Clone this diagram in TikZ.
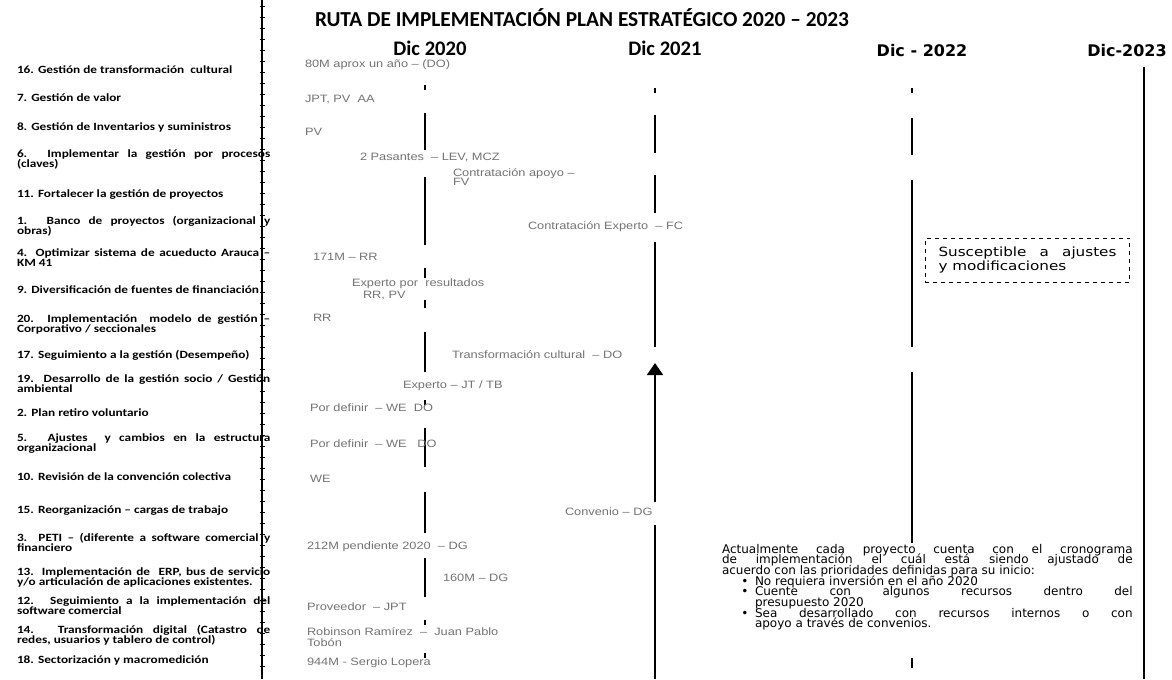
\documentclass[tikz,border=0pt]{standalone}
\usepackage{fontspec}
\setmainfont{Carlito}
\newfontfamily\labfont[FakeStretch=1.2]{Carlito}
\newfontfamily\respfont[FakeStretch=1.2]{Liberation Sans}
\newfontfamily\cajafont[FakeStretch=1.2]{DejaVu Sans}
\newfontfamily\dicfont{DejaVu Sans}
\newcommand\apretado{\lineskiplimit=-5pt\relax}
\usetikzlibrary{arrows.meta}

\begin{document}
\begin{tikzpicture}[
    x=0.75pt, y=-0.75pt,
    every node/.style={inner sep=0pt, outer sep=0pt, execute at begin node=\apretado},
    proyecto/.style={anchor=base west, text width=190pt, align=justify,
        font=\labfont\bfseries\fontsize{8.3}{7.7}\selectfont},
    resp/.style={anchor=base west, text=black!55,
        font=\respfont\fontsize{8}{9}\selectfont},
    anio/.style={anchor=base, font=\bfseries\fontsize{15.5}{16}\selectfont},
    anioB/.style={anchor=base, font=\dicfont\bfseries\fontsize{12}{13}\selectfont},
    tramo/.style={line width=1.3pt},
    marca/.style={line width=0.3pt}]

\useasboundingbox (0,0) rectangle (1172,679);

\draw[line width=1.5pt] (262,0) -- (262,679);
\foreach \y in {6,17,...,676}
    \draw[marca] (260,\y) -- (265,\y);

\node[anchor=base, font=\bfseries\fontsize{16}{17}\selectfont] (titulo) at (582,26)
    {RUTA DE IMPLEMENTACIÓN PLAN ESTRATÉGICO 2020 – 2023};
\node[anio] (dic20) at (430,55) {Dic 2020};
\node[anio] (dic21) at (665,55) {Dic 2021};
\node[anioB] (dic22) at (922,56) {Dic - 2022};
\node[anioB] (dic23) at (1127,56) {Dic-2023};

\node[proyecto] (p16) at (17,73)  {16. Gestión de transformación \ cultural};
\node[proyecto] (p7)  at (17,101) {7. Gestión de valor};
\node[proyecto] (p8)  at (17,130) {8. Gestión de Inventarios y suministros};
\node[proyecto] (p6)  at (17,157) {6. Implementar la gestión por procesos\linebreak (claves)};
\node[proyecto] (p11) at (17,197) {11. Fortalecer la gestión de proyectos};
\node[proyecto] (p1)  at (17,224) {1. Banco de proyectos (organizacional y\linebreak obras)};
\node[proyecto] (p4)  at (17,256) {4. Optimizar sistema de acueducto Arauca –\linebreak KM 41};
\node[proyecto] (p9)  at (17,293) {9. Diversificación de fuentes de financiación};
\node[proyecto] (p20) at (17,322) {20. Implementación \ modelo de gestión –\linebreak Corporativo / seccionales};
\node[proyecto] (p17) at (17,358) {17. Seguimiento a la gestión (Desempeño)};
\node[proyecto] (p19) at (17,382) {19. Desarrollo de la gestión socio / Gestión\linebreak ambiental};
\node[proyecto] (p2)  at (17,416) {2. Plan retiro voluntario};
\node[proyecto] (p5)  at (17,441) {5. Ajustes \ y cambios en la estructura\linebreak organizacional};
\node[proyecto] (p10) at (17,480) {10. Revisión de la convención colectiva};
\node[proyecto] (p15) at (17,513) {15. Reorganización – cargas de trabajo};
\node[proyecto] (p3)  at (17,541) {3. PETI – (diferente a software comercial y\linebreak financiero};
\node[proyecto] (p13) at (17,575) {13. Implementación de \ ERP, bus de servicio\linebreak y/o articulación de aplicaciones existentes.};
\node[proyecto] (p12) at (17,604) {12. Seguimiento a la implementación del\linebreak software comercial};
\node[proyecto] (p14) at (17,633) {14. Transformación digital (Catastro de\linebreak redes, usuarios y tablero de control)};
\node[proyecto] (p18) at (17,663) {18. Sectorización y macromedición};

\foreach \a/\b in {85/90,113/150,177/245,268/278,300/308,332/372,400/405,428/467,492/533,558/597,620/625,653/658}
    \draw[tramo, line width=1.6pt] (425,\a) -- (425,\b);
\foreach \a/\b in {88/93,115/153,175/213,242/347,525/679}
    \draw[tramo] (655,\a) -- (655,\b);
\draw[tramo, -{Triangle[width=12pt,length=9pt]}] (655,502) -- (655,363);
\foreach \a/\b in {88/93,118/155,180/347,372/543,658/668}
    \draw[tramo] (912,\a) -- (912,\b);
\draw[tramo, line width=1.1pt] (1144,67) -- (1144,679);

\node[resp] (r16) at (305,67)  {80M aprox un año – (DO)};
\node[resp] (r7)  at (305,102) {JPT, PV \ AA};
\node[resp] (r8)  at (305,135) {PV};
\node[resp] (r6)  at (360,160) {2 Pasantes \ – LEV, MCZ};
\node[resp] (r11) at (453,176) {Contratación apoyo –};
\node[resp] (r11b) at (453,185) {FV};
\node[resp] (r1)  at (528,229) {Contratación Experto \ – FC};
\node[resp] (r4)  at (313,260) {171M – RR};
\node[resp] (r9)  at (352,286) {Experto por \ resultados};
\node[resp] (r9b) at (363,298) {RR, PV};
\node[resp] (r20) at (313,321) {RR};
\node[resp] (r17) at (452,358) {Transformación cultural \ – DO};
\node[resp] (r19) at (403,388) {Experto – JT / TB};
\node[resp] (r2)  at (310,411) {Por definir \ – WE \ DO};
\node[resp] (r5)  at (310,447) {Por definir \ – WE \ \ DO};
\node[resp] (r10) at (310,482) {WE};
\node[resp] (r15) at (565,515) {Convenio – DG};
\node[resp] (r3)  at (307,549) {212M pendiente 2020 \ – DG};
\node[resp] (r13) at (443,581) {160M – DG};
\node[resp] (r12) at (307,610) {Proveedor \ – JPT};
\node[resp] (r14) at (307,635) {Robinson Ramírez \ – \ Juan Pablo};
\node[resp] (r14b) at (307,646) {Tobón};
\node[resp] (r18) at (307,665) {944M - Sergio Lopera};

\node[draw, dash pattern=on 3pt off 3pt, line width=0.6pt, text width=133.5pt,
      minimum height=33pt, inner xsep=10pt, align=justify,
      font=\cajafont\fontsize{9.5}{10.5}\selectfont] (ajuste) at (1027.5,260)
    {Susceptible a ajustes\linebreak y modificaciones};

\node[anchor=base west, text width=308pt, align=justify,
      font=\dicfont\fontsize{9}{8}\selectfont] (nota) at (722,553)
    {Actualmente cada proyecto cuenta con el cronograma\linebreak
     de implementación el cuál está siendo ajustado de\linebreak
     acuerdo con las prioridades definidas para su inicio:\par
     \leftskip=24.75pt
     \noindent\llap{\textbullet\hspace{5pt}}No requiera inversión en el año 2020\par
     \noindent\llap{\textbullet\hspace{5pt}}Cuente con algunos recursos dentro del\linebreak presupuesto 2020\par
     \noindent\llap{\textbullet\hspace{5pt}}Sea desarrollado con recursos internos o con\linebreak apoyo a través de convenios.\par};

\end{tikzpicture}
\end{document}
